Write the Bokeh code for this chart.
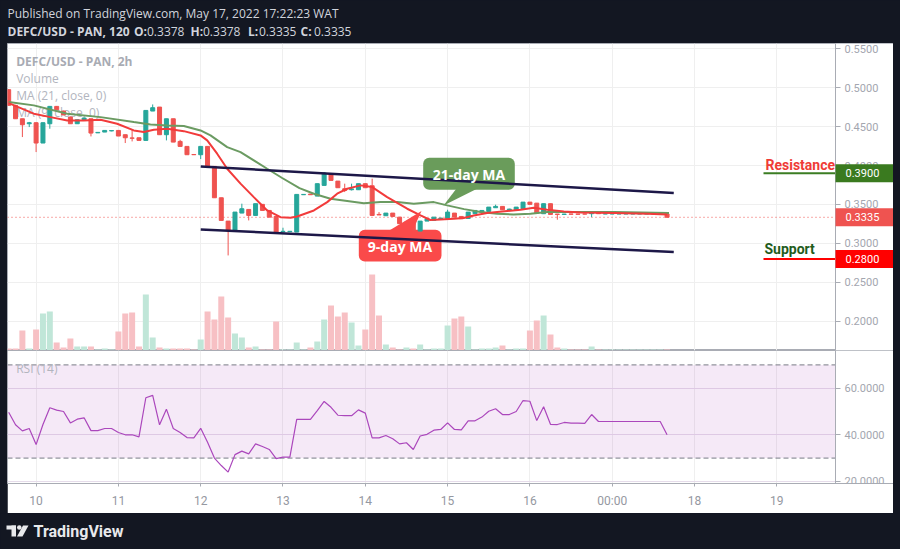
from bokeh.plotting import figure
from bokeh.models import (Range1d, FixedTicker, NumeralTickFormatter, BoxAnnotation,
                          Label, ColumnDataSource, Spacer)
from bokeh.layouts import column, row
from bokeh.embed import file_html
from bokeh.resources import INLINE
from bokeh.core.properties import value

# ---------------- data ----------------
first_bar_day = 9 + 16 / 24          # first 2h candle: May 9, 16:00
bar_hours = 2

opens = [0.4975,0.4773,0.4601,0.4537,0.4550,0.4289,0.4537,0.4760,0.4700,0.4623,
         0.4537,0.4588,0.4601,0.4420,0.4430,0.4445,0.4451,0.4396,0.4355,0.4357,
         0.4323,0.4700,0.4751,0.4396,0.4601,0.4310,0.4246,0.4142,0.4139,0.4246,
         0.3989,0.3586,0.3286,0.3166,0.3389,0.3436,0.3359,0.3501,0.3423,0.3346,
         0.3150,0.3150,0.3145,0.3625,0.3633,0.3607,0.3745,0.3895,0.3800,0.3702,
         0.3689,0.3689,0.3767,0.3740,0.3372,0.3355,0.3389,0.3337,0.3253,0.3273,
         0.3158,0.3286,0.3295,0.3317,0.3320,0.3389,0.3346,0.3320,0.3381,0.3400,
         0.3411,0.3458,0.3475,0.3432,0.3432,0.3445,0.3530,0.3517,0.3381,0.3510,
         0.3376,0.3372,0.3378,0.3376,0.3378,0.3381,0.3402,0.3378,0.3378,0.3378,
         0.3378,0.3378,0.3378,0.3378,0.3378,0.3378,0.3378]
highs = [0.4975,0.4780,0.4601,0.4560,0.4555,0.4555,0.4765,0.4765,0.4705,0.4630,
         0.4590,0.4615,0.4601,0.4426,0.4451,0.4451,0.4451,0.4396,0.4460,0.4357,
         0.4708,0.4785,0.4751,0.4601,0.4601,0.4331,0.4246,0.4142,0.4246,0.4246,
         0.3989,0.3586,0.3286,0.3402,0.3510,0.3436,0.3510,0.3501,0.3423,0.3346,
         0.3201,0.3155,0.3629,0.3629,0.3633,0.3767,0.3916,0.3895,0.3800,0.3767,
         0.3767,0.3767,0.3767,0.3831,0.3402,0.3389,0.3389,0.3337,0.3273,0.3273,
         0.3286,0.3317,0.3337,0.3325,0.3432,0.3389,0.3346,0.3402,0.3423,0.3423,
         0.3466,0.3497,0.3475,0.3445,0.3466,0.3530,0.3530,0.3517,0.3510,0.3510,
         0.3376,0.3378,0.3378,0.3378,0.3378,0.3402,0.3402,0.3381,0.3381,0.3381,
         0.3381,0.3381,0.3381,0.3381,0.3381,0.3381,0.3378]
lows = [0.4773,0.4601,0.4366,0.4494,0.4173,0.4289,0.4473,0.4717,0.4650,0.4537,
        0.4537,0.4588,0.4374,0.4420,0.4430,0.4440,0.4379,0.4289,0.4310,0.4323,
        0.4323,0.4700,0.4396,0.4323,0.4301,0.4246,0.4139,0.4139,0.4083,0.3989,
        0.3586,0.3295,0.2845,0.3166,0.3389,0.3295,0.3359,0.3423,0.3337,0.3132,
        0.3150,0.3150,0.3145,0.3625,0.3625,0.3607,0.3745,0.3809,0.3715,0.3659,
        0.3680,0.3689,0.3715,0.3359,0.3365,0.3355,0.3346,0.3253,0.3253,0.3166,
        0.3158,0.3286,0.3295,0.3310,0.3320,0.3337,0.3317,0.3320,0.3381,0.3400,
        0.3411,0.3458,0.3432,0.3423,0.3432,0.3445,0.3501,0.3389,0.3381,0.3372,
        0.3304,0.3372,0.3372,0.3374,0.3374,0.3337,0.3381,0.3377,0.3377,0.3377,
        0.3377,0.3377,0.3377,0.3377,0.3377,0.3377,0.3335]
closes = [0.4773,0.4601,0.4524,0.4550,0.4289,0.4550,0.4760,0.4717,0.4650,0.4537,
          0.4588,0.4610,0.4417,0.4426,0.4451,0.4449,0.4379,0.4357,0.4350,0.4323,
          0.4708,0.4743,0.4396,0.4601,0.4301,0.4246,0.4139,0.4139,0.4246,0.3989,
          0.3586,0.3295,0.3166,0.3402,0.3445,0.3359,0.3510,0.3423,0.3337,0.3132,
          0.3155,0.3155,0.3629,0.3629,0.3625,0.3767,0.3903,0.3809,0.3715,0.3680,
          0.3700,0.3767,0.3715,0.3359,0.3365,0.3389,0.3346,0.3253,0.3273,0.3166,
          0.3286,0.3317,0.3337,0.3325,0.3402,0.3337,0.3317,0.3402,0.3423,0.3423,
          0.3466,0.3475,0.3432,0.3440,0.3466,0.3530,0.3501,0.3389,0.3510,0.3372,
          0.3372,0.3376,0.3374,0.3374,0.3376,0.3402,0.3381,0.3380,0.3380,0.3380,
          0.3380,0.3380,0.3380,0.3380,0.3380,0.3380,0.3335]
volume_k = [2,2,20,2,21,37,39,8,3,12, 4,4,4,1,2,1,19,37,38,4,
            56,13,3,2,2,2,2,1,11,39, 31,54,33,17,13,3,4,1,1,29,
            1,1,8,1,3,9,31,45,34,38, 28,5,21,76,35,6,3,1,3,2,
            6,1,2,2,25,32,34,24,1,2, 2,3,5,1,2,2,20,30,35,16,
            3,2,1,1,1,4,1,1,1,1, 1,1,1,1,1,1,1]
rsi14 = [49.7,44.3,41.7,42.7,35.8,44.4,51.6,50.6,50.0,45.1,
         46.7,47.3,41.8,41.8,42.7,42.7,41.0,40.0,40.0,39.1,
         55.9,56.9,44.3,51.0,42.7,41.0,38.8,38.7,42.8,36.8,
         30.0,26.8,24.0,31.5,33.0,31.8,36.1,35.0,33.7,29.8,
         30.4,30.4,46.6,46.6,46.6,50.4,54.3,51.8,48.4,48.2,
         48.2,50.7,49.3,38.7,38.7,39.7,38.3,36.1,36.6,33.7,
         39.5,40.2,42.0,42.3,45.1,42.3,42.1,46.0,46.0,47.6,
         50.1,51.2,48.7,48.7,50.0,54.7,54.4,46.1,52.0,44.5,
         44.4,45.3,45.0,45.0,44.9,48.7,45.7,45.7,45.7,45.7,
         45.7,45.7,45.7,45.7,45.7,45.7,40.0]

ma9_day = [9.668,9.972,10.175,10.378,10.580,10.783,10.985,11.187,11.309,11.430,
           11.593,11.795,11.998,12.079,12.200,12.322,12.484,12.645,12.808,12.970,
           13.091,13.172,13.375,13.537,13.658,13.780,13.942,14.084,14.266,14.509,
           14.671,14.790,14.914,15.075,15.197,15.318,15.481,15.724,15.886,16.047,
           16.210,16.412,16.615,17.020,17.425,17.668]
ma9_val = [0.4802,0.4666,0.4622,0.4580,0.4580,0.4589,0.4537,0.4451,0.4430,0.4460,
           0.4473,0.4442,0.4387,0.4323,0.4152,0.3959,0.3767,0.3594,0.3423,0.3337,
           0.3329,0.3346,0.3423,0.3530,0.3638,0.3702,0.3745,0.3723,0.3594,0.3445,
           0.3359,0.3300,0.3308,0.3317,0.3325,0.3359,0.3389,0.3415,0.3432,0.3458,
           0.3432,0.3411,0.3398,0.3389,0.3381,0.3372]
ma21_day = [9.668,9.972,10.378,10.783,11.187,11.390,11.593,11.795,11.998,12.119,
            12.322,12.484,12.808,12.990,13.200,13.375,13.577,13.780,13.982,14.185,
            14.387,14.589,14.832,14.995,15.200,15.400,15.600,15.800,16.007,16.210,
            16.615,17.020,17.690]
ma21_val = [0.4815,0.4773,0.4666,0.4622,0.4558,0.4528,0.4516,0.4507,0.4451,0.4387,
            0.4237,0.4173,0.3959,0.3840,0.3710,0.3638,0.3574,0.3545,0.3515,0.3530,
            0.3530,0.3510,0.3530,0.3488,0.3440,0.3402,0.3381,0.3372,0.3381,0.3402,
            0.3402,0.3402,0.3389]

channel_upper_day = [12.0, 17.748]
channel_upper_val = [0.3989, 0.3646]
channel_lower_day = [12.0, 17.748]
channel_lower_val = [0.3179, 0.2888]

resistance_level = 0.39
support_level = 0.28
last_close = 0.3335

price_ticks = [0.20, 0.25, 0.30, 0.35, 0.40, 0.45, 0.50, 0.55]
rsi_ticks = [20, 40, 60]
rsi_bands = [30, 70]
day_ticks = [10, 11, 12, 13, 14, 15, 16, 17, 18, 19]
day_labels = ["10", "11", "12", "13", "14", "15", "16", "00:00", "18", "19"]

# ---------------- styling / geometry ----------------
BG = "#131722"
GREEN = "#26a69a"
RED = "#ef5350"
VOL_GREEN = "#c0e6d8"
VOL_RED = "#f7c0c4"
AXIS_GREY = "#a9acb4"
LABEL_GREY = "#a3a6af"
GRID = "#efefef"

PX_PER_DAY = 82.3
PX_PER_PRICE = 778.3
FRAME_W = 886                       # panel x 7..893 (price scale inside, at x 835)
X0 = 9.6525
X_AX = X0 + 828 / PX_PER_DAY        # day value at x = 835 (price scale line)
X_END = X0 + FRAME_W / PX_PER_DAY
P1 = 0.5568
P0 = P1 - 307 / PX_PER_PRICE
R1 = 76.18
R0 = R1 - 133 / 2.33


def dx(px):
    return X0 + (px - 7) / PX_PER_DAY


def dy(py):
    return P1 - (py - 43) / PX_PER_PRICE


def ry(py):
    return R1 - (py - 350) / 2.33


n = len(closes)
t = [first_bar_day + i * bar_hours / 24 for i in range(n)]
up = [c >= o for o, c in zip(opens, closes)]
src = ColumnDataSource(dict(
    t=t, o=opens, h=highs, l=lows, c=closes,
    top=[max(o, c) for o, c in zip(opens, closes)],
    bottom=[min(o, c) for o, c in zip(opens, closes)],
    color=[GREEN if u else RED for u in up],
    vcolor=[VOL_GREEN if u else VOL_RED for u in up],
    vol=volume_k, rsi=rsi14,
))


def style_right_axis(ax):
    ax.fixed_location = X_AX
    ax.axis_line_color = AXIS_GREY
    ax.major_tick_line_color = AXIS_GREY
    ax.major_tick_in = 0
    ax.major_tick_out = 5
    ax.minor_tick_line_color = None
    ax.major_label_text_color = LABEL_GREY
    ax.major_label_text_font = "Roboto"
    ax.major_label_text_font_size = "11px"
    ax.major_label_standoff = 4


def scale_cover(fig):
    # keep the price-scale column clean (no grid lines)
    fig.add_layout(BoxAnnotation(left=X_AX, right=X_END + 1, fill_color="white", fill_alpha=1,
                                 line_color=None, level="underlay"))


# ---------------- header ----------------
hdr = figure(width=900, height=43, x_range=Range1d(0, 900), y_range=Range1d(43, 0),
             x_axis_location=None, y_axis_location=None, min_border=0,
             output_backend="svg", toolbar_location=None)
hdr.background_fill_color = BG
hdr.border_fill_color = BG
hdr.outline_line_color = None
hdr.grid.visible = False
hdr.text(x=[7], y=[13], text=["Published on TradingView.com, May 17, 2022 17:22:23 WAT"],
         text_font=value("Open Sans"), text_font_size="12px", text_color="#d1d4dc",
         text_baseline="middle")
segs = [("DEFC/USD - PAN, 120", 7, "bold"), ("O:", 133.5, "bold"), ("0.3378", 146.5, "normal"),
        ("H:", 190, "bold"), ("0.3378", 202.5, "normal"), ("L:", 247.5, "bold"),
        ("0.3335", 258.5, "normal"), ("C:", 300, "bold"), ("0.3335", 313.5, "normal")]
for s, x, st in segs:
    hdr.text(x=[x], y=[30.5], text=[s], text_font=value("Open Sans"), text_font_size="12px",
             text_color="#d1d4dc", text_baseline="middle", text_font_style=st)

# ---------------- price pane ----------------
p = figure(frame_width=FRAME_W, frame_height=307, x_range=Range1d(X0, X_END),
           y_range=Range1d(P0, P1), x_axis_location=None, y_axis_location="right",
           min_border_left=0, min_border_right=0, min_border_top=0, min_border_bottom=0,
           output_backend="svg", toolbar_location=None)
p.background_fill_color = "white"
p.border_fill_color = "white"
p.outline_line_color = AXIS_GREY
p.yaxis.ticker = FixedTicker(ticks=price_ticks)
p.yaxis.formatter = NumeralTickFormatter(format="0.0000")
style_right_axis(p.yaxis[0])
p.ygrid.grid_line_color = GRID
p.xgrid.ticker = FixedTicker(ticks=day_ticks)
p.xgrid.grid_line_color = GRID
scale_cover(p)
p.extra_y_ranges = {"vol": Range1d(0, 307)}

# callout boxes sit under everything else
G_CALL = "#6a9c5b"
R_CALL = "#fa4a4a"
p.add_layout(BoxAnnotation(left=dx(422.7), right=dx(514.3), top=dy(157.3), bottom=dy(189.3),
                           fill_color=G_CALL, fill_alpha=1, line_color=None, border_radius=6,
                           level="underlay"))
p.add_layout(BoxAnnotation(left=dx(358.3), right=dx(441), top=dy(229.3), bottom=dy(261),
                           fill_color=R_CALL, fill_alpha=1, line_color=None, border_radius=6,
                           level="underlay"))

# legend texts
p.text(x=[dx(15.7)], y=[dy(60.7)], text=["DEFC/USD - PAN, 2h"], text_font=value("Open Sans"),
       text_font_size="12px", text_font_style="bold", text_color="#a8abb3", text_baseline="middle")
p.text(x=[dx(15.7)] * 3, y=[dy(77.7), dy(95), dy(111.7)],
       text=["Volume", "MA (21, close, 0)", "MA (9, close, 0)"], text_font=value("Open Sans"),
       text_font_size="12px", text_color="#b2b5be", text_baseline="middle")

w_vol = 6 / PX_PER_DAY
w_body = 4 / PX_PER_DAY
p.vbar(x="t", top="vol", bottom=0, width=w_vol, fill_color="vcolor", line_color=None,
       y_range_name="vol", source=src)
p.line([X0, X_AX], [last_close, last_close], line_color=RED, line_dash="1 3", line_width=1)
p.segment(x0="t", y0="h", x1="t", y1="l", line_color="color", line_width=1, source=src)
p.vbar(x="t", top="top", bottom="bottom", width=w_body, fill_color="color",
       line_color="color", line_width=1, source=src)

p.line(ma21_day, ma21_val, line_color="#6b9b62", line_width=2)
p.line(ma9_day, ma9_val, line_color="#f23b3b", line_width=2)

# callout tails
p.patch([dx(456), dx(477), dx(443)], [dy(188), dy(188), dy(205)], fill_color=G_CALL, line_color=None)
p.patch([dx(388), dx(412), dx(421)], [dy(230.5), dy(230.5), dy(210.5)], fill_color=R_CALL, line_color=None)

p.line(channel_upper_day, channel_upper_val, line_color="#1d1848", line_width=2.5)
p.line(channel_lower_day, channel_lower_val, line_color="#1d1848", line_width=2.5)

# callout texts
p.add_layout(Label(x=dx(468.5), y=dy(173.5), text="21-day MA", text_font="Open Sans",
                   text_font_size="14px", text_font_style="bold", text_color="white",
                   text_align="center", text_baseline="middle"))
p.add_layout(Label(x=dx(399.5), y=dy(245.5), text="9-day MA", text_font="Open Sans",
                   text_font_size="14px", text_font_style="bold", text_color="white",
                   text_align="center", text_baseline="middle"))

# resistance / support
p.line([dx(763), X_AX], [resistance_level] * 2, line_color="#3b7d23", line_width=2)
p.line([dx(763), X_AX], [support_level] * 2, line_color="#ff0000", line_width=2)
p.text(x=[dx(765)], y=[dy(164.5)], text=["Resistance"], text_font=value("Roboto"),
       text_font_size="14px", text_font_style="bold", text_color="#ef3b36", text_baseline="middle")
p.text(x=[dx(764)], y=[dy(248.5)], text=["Support"], text_font=value("Roboto"),
       text_font_size="14px", text_font_style="bold", text_color="#1f5c1c", text_baseline="middle")

# price boxes on the price scale
for val, bg in [(resistance_level, "#3a7a1f"), (last_close, "#ef5350"), (support_level, "#ff0000")]:
    p.add_layout(BoxAnnotation(left=X_AX, right=X_END, top=val + 9 / PX_PER_PRICE,
                               bottom=val - 9 / PX_PER_PRICE, fill_color=bg, fill_alpha=1,
                               line_color=None))
    p.add_layout(Label(x=dx(845), y=val, text=f"{val:.4f}", text_color="white", text_font="Roboto",
                       text_font_size="11px", text_baseline="middle", text_align="left"))

# ---------------- RSI pane ----------------
r = figure(frame_width=FRAME_W, frame_height=133, x_range=p.x_range, y_range=Range1d(R0, R1),
           y_axis_location="right", x_axis_location="below",
           min_border_left=0, min_border_right=0, min_border_top=0, min_border_bottom=30,
           output_backend="svg", toolbar_location=None)
r.background_fill_color = "white"
r.border_fill_color = "white"
r.outline_line_color = AXIS_GREY
r.yaxis.ticker = FixedTicker(ticks=rsi_ticks)
r.yaxis.formatter = NumeralTickFormatter(format="0.0000")
style_right_axis(r.yaxis[0])
r.xaxis.ticker = FixedTicker(ticks=day_ticks)
r.xaxis.major_label_overrides = {d: lab for d, lab in zip(day_ticks, day_labels)}
r.xaxis.axis_line_color = AXIS_GREY
r.xaxis.major_tick_line_color = AXIS_GREY
r.xaxis.major_tick_in = 0
r.xaxis.major_tick_out = 3
r.xaxis.minor_tick_line_color = None
r.xaxis.major_label_text_color = "#9598a1"
r.xaxis.major_label_text_font = "Roboto"
r.xaxis.major_label_text_font_size = "12px"
r.xaxis.major_label_standoff = 7
r.xgrid.grid_line_color = GRID
r.ygrid.grid_line_color = "#e6dcea"
scale_cover(r)

r.add_layout(BoxAnnotation(left=X0, right=X_AX, bottom=rsi_bands[0], top=rsi_bands[1],
                           fill_color="#9c27b0", fill_alpha=0.1, line_color=None, level="underlay"))
for b in rsi_bands:
    r.line([X0, X_AX], [b, b], line_color="#787b86", line_dash="5 3", line_width=1)
r.text(x=[dx(15.7)], y=[ry(368)], text=["RSI (14)"], text_font=value("Open Sans"),
       text_font_size="12px", text_color="#b2b5be", text_baseline="middle")
r.line(x="t", y="rsi", line_color="#ab47bc", line_width=1.2, source=src)

# ---------------- footer ----------------
ftr = figure(width=900, height=36, x_range=Range1d(0, 900), y_range=Range1d(36, 0),
             x_axis_location=None, y_axis_location=None, min_border=0,
             output_backend="svg", toolbar_location=None)
ftr.background_fill_color = BG
ftr.border_fill_color = BG
ftr.outline_line_color = None
ftr.grid.visible = False
LOGO = "#e8e9ec"
ftr.quad(left=[6, 11], right=[15.5, 15.5], top=[12, 12], bottom=[16, 23], fill_color=LOGO, line_color=None)
ftr.scatter(x=[18.8], y=[14], size=4.5, fill_color=LOGO, line_color=None)
ftr.patch([22.5, 28, 22, 16.5], [12, 12, 23, 23], fill_color=LOGO, line_color=None)
ftr.text(x=[33], y=[18], text=["TradingView"], text_font=value("Roboto"), text_font_size="16px",
         text_font_style="bold", text_color=LOGO, text_baseline="middle")

# ---------------- layout ----------------
sp = lambda h: Spacer(width=7, height=h, styles={"background-color": BG})
layout = column(hdr,
                row(sp(307), p, spacing=0),
                row(sp(163), r, spacing=0),
                ftr, spacing=0, styles={"background-color": BG})

html = file_html(layout, INLINE, title="DEFC/USD")
css = ("<style>html,body{margin:0;padding:0;background:#131722;overflow:hidden;}"
       "body::after{content:'';position:fixed;left:893px;top:43px;width:40px;height:470px;"
       "background:#131722;z-index:1000;}</style>")
html = html.replace("</head>", css + "</head>", 1)
open("out.html", "w").write(html)
